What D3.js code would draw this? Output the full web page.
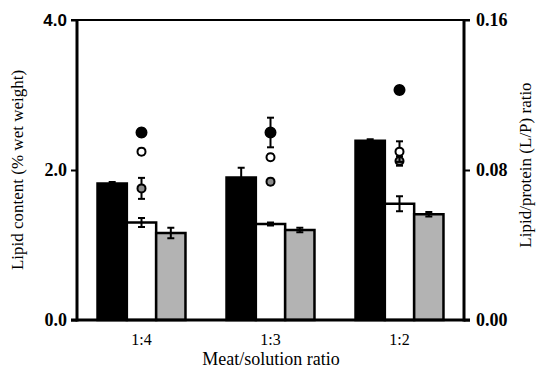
<!DOCTYPE html>
<html>
<head>
<meta charset="utf-8">
<script src="https://cdn.jsdelivr.net/npm/d3@7"></script>
<style>
  body { margin: 0; background: #fff; }
  svg { display: block; }
</style>
</head>
<body>
<div id="app"></div>
<script>
// categories
const ratios = ["1:4", "1:3", "1:2"];

// bar series: lipid content (% wet weight), left axis
const barSeries = ["black", "white", "grey"];
const barBlack = [1.82, 1.90, 2.39];
const barBlackErr = [0.02, 0.13, 0.02];
const barWhite = [1.30, 1.28, 1.55];
const barWhiteErr = [0.06, 0.02, 0.10];
const barGrey = [1.16, 1.20, 1.41];
const barGreyErr = [0.07, 0.03, 0.03];

// point series: L/P ratio, right axis
const ptBlack = [0.100, 0.100, 0.1227];
const ptBlackErr = [0.002, 0.0079, 0.002];
const ptOpen = [0.0898, 0.0868, 0.0898];
const ptOpenErr = [0.0015, 0.0015, 0.0055];
const ptGrey = [0.0702, 0.0738, 0.0848];
const ptGreyErr = [0.0056, 0.0015, 0.0025];

const leftTicks = [0, 2, 4];
const rightTicks = [0, 0.08, 0.16];

const W = 537, H = 371;
const mLeft = 77, mRight = 464, mTop = 20, mBottom = 320;
const serif = "'Liberation Serif', 'Times New Roman', serif";

const svg = d3.select("#app").append("svg").attr("width", W).attr("height", H)
  .style("font-family", serif);

const x0 = d3.scaleBand().domain(ratios).range([mLeft, mRight]).padding(0);
const x1 = d3.scaleBand().domain(barSeries).range([0, x0.bandwidth()]).paddingInner(0).paddingOuter(0.7);
const yL = d3.scaleLinear().domain([0, 4]).range([mBottom, mTop]);
const yR = d3.scaleLinear().domain([0, 0.16]).range([mBottom, mTop]);

const fills = { black: "#000", white: "#fff", grey: "#b3b3b3" };
const barVals = { black: barBlack, white: barWhite, grey: barGrey };
const barErrs = { black: barBlackErr, white: barWhiteErr, grey: barGreyErr };

const errorBar = (cx, yHi, yLo) => {
  const g = svg.append("g").attr("stroke", "#000").attr("stroke-width", 2);
  g.append("line").attr("x1", cx).attr("x2", cx).attr("y1", yHi).attr("y2", yLo);
  g.append("line").attr("x1", cx - 3.5).attr("x2", cx + 3.5).attr("y1", yHi).attr("y2", yHi);
  g.append("line").attr("x1", cx - 3.5).attr("x2", cx + 3.5).attr("y1", yLo).attr("y2", yLo);
};

// top frame line
svg.append("line")
  .attr("x1", mLeft - 6).attr("x2", mRight + 6)
  .attr("y1", mTop).attr("y2", mTop)
  .attr("stroke", "#000").attr("stroke-width", 2);

// bars
barSeries.forEach((s) => {
  svg.append("g")
    .selectAll("rect")
    .data(ratios)
    .enter()
    .append("rect")
    .attr("x", (d) => x0(d) + x1(s))
    .attr("y", (d, i) => yL(barVals[s][i]))
    .attr("width", x1.bandwidth())
    .attr("height", (d, i) => mBottom - yL(barVals[s][i]))
    .attr("fill", fills[s])
    .attr("stroke", "#000")
    .attr("stroke-width", 2.5);

  ratios.forEach((d, i) => {
    const cx = x0(d) + x1(s) + x1.bandwidth() / 2;
    const v = barVals[s][i], e = barErrs[s][i];
    errorBar(cx, yL(v + e), yL(v - e));
  });
});

// points with error bars
const pts = [
  { vals: ptGrey, errs: ptGreyErr, fill: "#8c8c8c", r: 4 },
  { vals: ptOpen, errs: ptOpenErr, fill: "#fff", r: 4 },
  { vals: ptBlack, errs: ptBlackErr, fill: "#000", r: 5 },
];
pts.forEach((p) => {
  ratios.forEach((d, i) => {
    const cx = x0(d) + x0.bandwidth() / 2;
    const v = p.vals[i], e = p.errs[i];
    errorBar(cx, yR(v + e), yR(v - e));
  });
  svg.append("g")
    .selectAll("circle")
    .data(ratios)
    .enter()
    .append("circle")
    .attr("cx", (d) => x0(d) + x0.bandwidth() / 2)
    .attr("cy", (d, i) => yR(p.vals[i]))
    .attr("r", p.r)
    .attr("fill", p.fill)
    .attr("stroke", "#000")
    .attr("stroke-width", 2);
});

// axes
const axisStyle = (g, weight, size) => {
  g.select(".domain").remove();
  g.selectAll(".tick line").attr("stroke-width", 2);
  g.selectAll(".tick text")
    .style("font-family", serif)
    .style("font-size", size + "px")
    .style("font-weight", weight)
    .style("fill", "#000");
};

const leftAxis = svg.append("g")
  .attr("transform", `translate(${mLeft},0)`)
  .call(d3.axisLeft(yL).tickValues(leftTicks).tickFormat(d3.format(".1f")).tickSize(6).tickPadding(4))
  .call((g) => axisStyle(g, "bold", 18));
// the top label is set in a sans face in the original
leftAxis.selectAll(".tick text")
  .filter((d) => d === 4)
  .style("font-family", "'Liberation Sans', Arial, sans-serif")
  .style("font-size", "17px");

svg.append("g")
  .attr("transform", `translate(${mRight},0)`)
  .call(d3.axisRight(yR).tickValues(rightTicks).tickFormat(d3.format(".2f")).tickSize(6).tickPadding(6))
  .call((g) => axisStyle(g, "bold", 18));

svg.append("g")
  .attr("transform", `translate(0,${mBottom})`)
  .call(d3.axisBottom(x0).tickSize(0).tickPadding(14))
  .call((g) => axisStyle(g, "normal", 16));

// axis lines
svg.append("line").attr("x1", mLeft).attr("x2", mLeft).attr("y1", mTop).attr("y2", mBottom + 1.5)
  .attr("stroke", "#000").attr("stroke-width", 3);
svg.append("line").attr("x1", mRight).attr("x2", mRight).attr("y1", mTop).attr("y2", mBottom + 1.5)
  .attr("stroke", "#000").attr("stroke-width", 3);
svg.append("line").attr("x1", mLeft - 6).attr("x2", mRight + 6).attr("y1", mBottom).attr("y2", mBottom)
  .attr("stroke", "#000").attr("stroke-width", 3);

// titles
svg.append("text")
  .attr("x", 271)
  .attr("y", 365)
  .attr("text-anchor", "middle")
  .style("font-size", "18px")
  .text("Meat/solution ratio");

svg.append("text")
  .attr("transform", `translate(23,170) rotate(-90)`)
  .attr("text-anchor", "middle")
  .style("font-size", "17px")
  .text("Lipid content (% wet weight)");

svg.append("text")
  .attr("transform", `translate(531,165) rotate(-90)`)
  .attr("text-anchor", "middle")
  .style("font-size", "17px")
  .text("Lipid/protein (L/P) ratio");
</script>
</body>
</html>
